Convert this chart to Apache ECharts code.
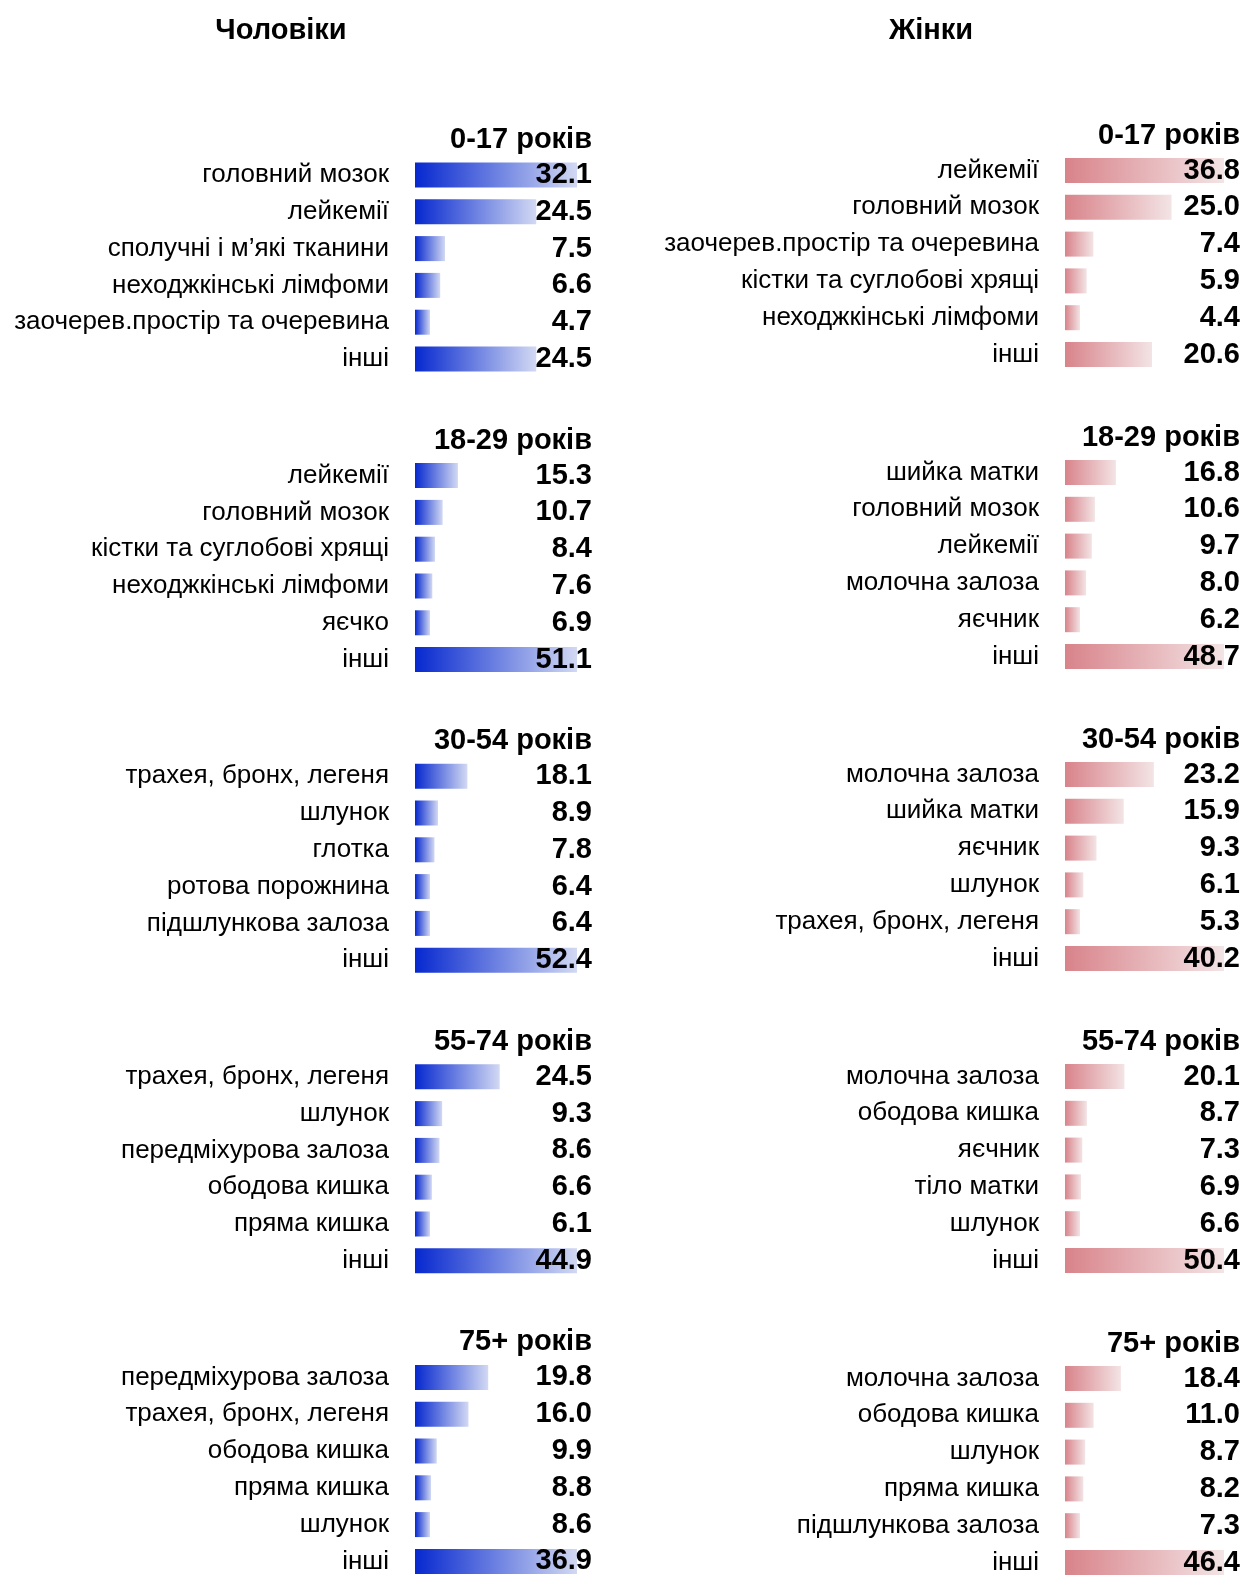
<!DOCTYPE html>
<html><head><meta charset="utf-8">
<script src="https://cdn.jsdelivr.net/npm/echarts/dist/echarts.min.js"></script>
<style>html,body{margin:0;padding:0;background:#fff}#c{width:1245px;height:1582px}</style>
</head><body><div id="c"></div>
<script>
const sideTitles = ['Чоловіки', 'Жінки'];
const ageGroups = ['0-17 років', '18-29 років', '30-54 років', '55-74 років', '75+ років'];

const male0017Labels = ['головний мозок', 'лейкемії', 'сполучні і м’які тканини', 'неходжкінські лімфоми', 'заочерев.простір та очеревина', 'інші'];
const male0017Values = [32.1, 24.5, 7.5, 6.6, 4.7, 24.5];
const male1829Labels = ['лейкемії', 'головний мозок', 'кістки та суглобові хрящі', 'неходжкінські лімфоми', 'яєчко', 'інші'];
const male1829Values = [15.3, 10.7, 8.4, 7.6, 6.9, 51.1];
const male3054Labels = ['трахея, бронх, легеня', 'шлунок', 'глотка', 'ротова порожнина', 'підшлункова залоза', 'інші'];
const male3054Values = [18.1, 8.9, 7.8, 6.4, 6.4, 52.4];
const male5574Labels = ['трахея, бронх, легеня', 'шлунок', 'передміхурова залоза', 'ободова кишка', 'пряма кишка', 'інші'];
const male5574Values = [24.5, 9.3, 8.6, 6.6, 6.1, 44.9];
const male75Labels = ['передміхурова залоза', 'трахея, бронх, легеня', 'ободова кишка', 'пряма кишка', 'шлунок', 'інші'];
const male75Values = [19.8, 16.0, 9.9, 8.8, 8.6, 36.9];

const female0017Labels = ['лейкемії', 'головний мозок', 'заочерев.простір та очеревина', 'кістки та суглобові хрящі', 'неходжкінські лімфоми', 'інші'];
const female0017Values = [36.8, 25.0, 7.4, 5.9, 4.4, 20.6];
const female1829Labels = ['шийка матки', 'головний мозок', 'лейкемії', 'молочна залоза', 'яєчник', 'інші'];
const female1829Values = [16.8, 10.6, 9.7, 8.0, 6.2, 48.7];
const female3054Labels = ['молочна залоза', 'шийка матки', 'яєчник', 'шлунок', 'трахея, бронх, легеня', 'інші'];
const female3054Values = [23.2, 15.9, 9.3, 6.1, 5.3, 40.2];
const female5574Labels = ['молочна залоза', 'ободова кишка', 'яєчник', 'тіло матки', 'шлунок', 'інші'];
const female5574Values = [20.1, 8.7, 7.3, 6.9, 6.6, 50.4];
const female75Labels = ['молочна залоза', 'ободова кишка', 'шлунок', 'пряма кишка', 'підшлункова залоза', 'інші'];
const female75Values = [18.4, 11.0, 8.7, 8.2, 7.3, 46.4];

const maleLabels = [male0017Labels, male1829Labels, male3054Labels, male5574Labels, male75Labels];
const maleValues = [male0017Values, male1829Values, male3054Values, male5574Values, male75Values];
const femaleLabels = [female0017Labels, female1829Labels, female3054Labels, female5574Labels, female75Labels];
const femaleValues = [female0017Values, female1829Values, female3054Values, female5574Values, female75Values];

const FONT = 'Liberation Sans, Arial, sans-serif';
const ROW = 36.8;
const sides = [
  { labels: maleLabels, values: maleValues, left: 415, gridW: 177, maxBar: 162, minBar: 15, first: 175, step: 300.6,
    c0: '#0628cf', c1: '#d2d9f3', headX: 281 },
  { labels: femaleLabels, values: femaleValues, left: 1065, gridW: 175, maxBar: 159, minBar: 15, first: 170.5, step: 302,
    c0: '#d8838a', c1: '#f3e4e5', headX: 931 }
];

const grid = [], xAxis = [], yAxis = [], series = [], graphic = [];
sides.forEach((s, si) => {
  graphic.push({ type: 'text', x: s.headX, y: 31, style: { text: sideTitles[si], font: 'bold 29px ' + FONT, fill: '#000', textAlign: 'center', textVerticalAlign: 'middle' } });
  for (let g = 0; g < 5; g++) {
    const idx = grid.length;
    const firstRow = s.first + s.step * g;
    grid.push({ left: s.left, top: firstRow - ROW / 2, width: s.gridW, height: ROW * 6 });
    const span = s.maxBar - s.minBar;
    xAxis.push({ gridIndex: idx, type: 'value', show: false,
      min: v => v.min - s.minBar * (v.max - v.min) / span,
      max: v => (v.min - s.minBar * (v.max - v.min) / span) + s.gridW * (v.max - v.min) / span,
      splitLine: { show: false } });
    yAxis.push({ gridIndex: idx, type: 'category', inverse: true, data: s.labels[g], z: 10,
      axisLine: { show: false }, axisTick: { show: false },
      axisLabel: { interval: 0, margin: 26, fontSize: 26, color: '#000', fontFamily: FONT, padding: [6, 0, 0, 0] } });
    yAxis.push({ gridIndex: idx, type: 'category', inverse: true, position: 'right', z: 10,
      data: s.values[g].map(v => v.toFixed(1)),
      axisLine: { show: false }, axisTick: { show: false },
      axisLabel: { interval: 0, margin: 0, align: 'right', fontSize: 29, fontWeight: 'bold', color: '#000', fontFamily: FONT, padding: [6, 0, 0, 0] } });
    series.push({ type: 'bar', xAxisIndex: idx, yAxisIndex: idx * 2, data: s.values[g], barWidth: 25, silent: true,
      itemStyle: { color: new echarts.graphic.LinearGradient(0, 0, 1, 0, [{ offset: 0, color: s.c0 }, { offset: 1, color: s.c1 }]) } });
    graphic.push({ type: 'text', x: s.left + s.gridW, y: firstRow - 35, style: { text: ageGroups[g], font: 'bold 29px ' + FONT, fill: '#000', textAlign: 'right', textVerticalAlign: 'middle' } });
  }
});

const chart = echarts.init(document.getElementById('c'), null, { renderer: 'canvas' });
chart.setOption({ backgroundColor: '#fff', animation: false, grid, xAxis, yAxis, series, graphic });
</script></body></html>
